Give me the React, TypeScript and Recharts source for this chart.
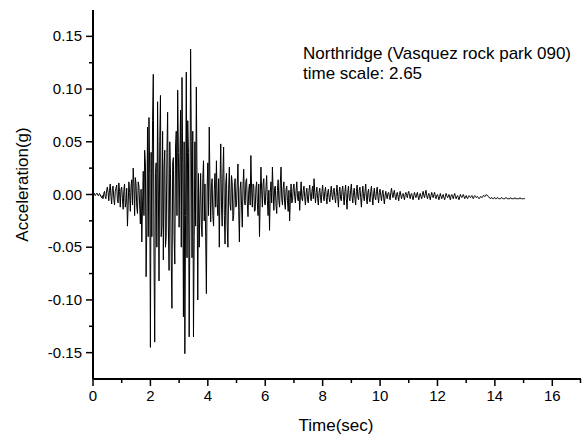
import React from 'react';
import { LineChart, Line, XAxis, YAxis } from 'recharts';

// Sampling interval of the digitised record (s)
const SAMPLE_INTERVAL = 0.025;

// Acceleration (g), t = 0.000 .. 2.975 s
const accel0to3 = [
  0, 0.0, 0.001, -0.001, 0, 0.001, 0.001, -0.001, -0.001, 0.001,
  0.0, -0.002, -0.003, -0.001, -0.004, 0.001, 0.003, -0.002, -0.004, 0.004,
  0.007, 0.002, -0.006, 0.004, 0.010, -0.002, -0.009, 0.006, 0.008, -0.004,
  -0.010, 0.003, 0.006, 0.009, -0.005, -0.008, 0.011, 0.003, -0.012, 0.005,
  0.007, -0.004, -0.014, 0.004, 0.010, -0.012, -0.008, 0.006, -0.030, -0.010,
  0.012, 0.002, -0.016, 0.008, 0.014, -0.010, 0.025, 0.010, -0.020, 0.016,
  0.010, -0.012, -0.018, 0.012, 0.008, -0.010, -0.028, 0.005, -0.045, -0.010,
  0.022, -0.020, 0.042, 0.030, -0.078, -0.030, 0.064, -0.040, 0.073, 0.020,
  -0.145, 0.040, -0.040, 0.070, 0.114, -0.060, -0.140, 0.020, 0.030, -0.050,
  0.088, 0.010, -0.082, 0.050, 0.094, -0.040, -0.030, 0.060, -0.062, 0.025,
  0.042, -0.050, -0.040, 0.040, 0.078, -0.030, -0.072, 0.050, 0.020, -0.060,
  -0.108, 0.030, 0.035, -0.040, -0.066, 0.045, 0.060, -0.020, 0.099, 0.040,
];
// t = 3.000 .. 5.975 s
const accel3to6 = [
  -0.031, 0.030, 0.080, -0.050, 0.111, 0.030, -0.116, 0.050, -0.151, -0.020,
  0.116, -0.060, 0.070, 0.040, -0.135, -0.030, 0.138, 0.050, -0.060, 0.060,
  -0.135, -0.040, 0.050, -0.030, 0.102, 0.010, -0.100, 0.020, -0.050, -0.010,
  0.020, -0.030, -0.040, 0.015, 0.032, -0.025, 0.010, -0.040, -0.094, 0.005,
  0.030, -0.020, 0.064, 0.010, -0.026, 0.008, 0.015, -0.020, -0.030, 0.005,
  0.020, -0.012, 0.032, -0.008, -0.020, 0.015, -0.050, 0.010, 0.048, -0.010,
  -0.030, 0.020, 0.045, -0.020, -0.047, 0.010, 0.020, -0.030, -0.050, 0.005,
  0.026, -0.010, -0.015, 0.018, 0.011, -0.025, -0.020, 0.008, 0.015, -0.012,
  -0.010, 0.010, 0.029, -0.015, -0.045, 0.005, 0.012, -0.010, -0.031, 0.008,
  0.024, -0.006, -0.010, 0.012, 0.015, -0.008, -0.021, 0.004, 0.010, -0.010,
  0.037, 0.005, -0.012, 0.010, 0.008, -0.016, -0.015, 0.006, 0.012, -0.008,
  -0.020, 0.010, -0.040, -0.005, 0.026, 0.004, -0.012, 0.010, 0.015, -0.008,
];
// t = 6.000 .. 8.975 s
const accel6to9 = [
  -0.010, 0.006, 0.018, -0.006, -0.020, 0.004, -0.034, 0.002, 0.012, -0.008,
  0.026, 0.004, -0.015, 0.006, 0.008, -0.010, -0.018, 0.004, 0.014, -0.006,
  -0.012, 0.010, 0.026, -0.004, -0.010, 0.006, 0.012, -0.008, -0.014, 0.005,
  0.008, -0.006, -0.016, 0.004, -0.025, -0.004, 0.010, -0.008, -0.006, 0.006,
  0.010, -0.002, -0.008, 0.004, 0.012, -0.003, -0.006, 0.003, -0.015, -0.002,
  0.012, -0.004, -0.006, 0.004, 0.008, -0.003, -0.010, 0.002, 0.006, -0.005,
  -0.008, 0.004, 0.009, -0.002, -0.006, 0.003, 0.008, -0.004, 0.015, 0.002,
  -0.008, 0.002, 0.007, -0.004, -0.010, 0.002, 0.006, -0.003, -0.008, 0.003,
  0.009, -0.002, -0.006, 0.003, 0.007, -0.003, -0.009, 0.002, 0.005, -0.003,
  -0.007, 0.002, 0.008, -0.001, -0.005, 0.004, 0.006, -0.003, -0.008, 0.002,
  0.009, -0.002, -0.012, 0.003, 0.007, -0.004, -0.006, 0.004, 0.008, -0.002,
  -0.010, 0.003, 0.009, -0.004, -0.014, 0.002, 0.008, -0.003, -0.006, 0.004,
];
// t = 9.000 .. 11.975 s
const accel9to12 = [
  0.010, -0.002, -0.008, 0.002, 0.006, -0.004, -0.010, 0.003, 0.009, -0.002,
  -0.005, 0.004, 0.007, -0.003, -0.012, 0.001, 0.008, -0.002, -0.006, 0.003,
  0.010, -0.003, -0.009, 0.002, 0.005, -0.004, -0.007, 0.003, 0.008, -0.002,
  -0.010, 0.001, 0.006, -0.003, -0.005, 0.003, 0.007, -0.002, -0.008, 0.002,
  0.005, -0.001, -0.006, 0.001, 0.004, -0.003, -0.009, -0.001, 0.003, -0.002,
  -0.004, 0.001, 0.002, -0.002, -0.005, 0.002, 0.006, 0.000, -0.003, 0.002,
  0.004, -0.002, -0.005, 0.000, 0.002, -0.002, -0.006, 0.000, 0.003, -0.001,
  -0.004, 0.000, 0.001, -0.002, -0.005, 0.000, 0.002, -0.001, -0.003, 0.001,
  0.003, -0.001, -0.004, 0.000, 0.001, -0.002, -0.005, -0.001, 0.002, -0.001,
  -0.003, 0.000, 0.002, -0.002, -0.005, -0.001, 0.001, -0.002, -0.004, 0.000,
  0.003, -0.001, -0.003, 0.001, 0.004, -0.001, -0.004, -0.001, 0.001, -0.002,
  -0.005, -0.001, 0.002, -0.001, -0.003, 0.000, 0.002, -0.002, -0.004, -0.001,
];
// t = 12.000 .. 15.050 s
const accel12to15 = [
  0.000, -0.002, -0.005, -0.002, 0.001, -0.002, -0.004, -0.001, 0.000, -0.003,
  -0.005, -0.002, 0.001, -0.001, -0.003, -0.002, 0.000, -0.003, -0.005, -0.001,
  0.000, -0.002, -0.004, -0.001, 0.001, -0.002, -0.004, -0.002, -0.001, -0.003,
  -0.005, -0.002, 0.000, -0.002, -0.003, -0.001, 0.000, -0.002, -0.004, -0.002,
  -0.001, -0.003, -0.004, -0.002, -0.001, -0.002, -0.003, -0.002, -0.001, -0.003,
  -0.004, -0.002, -0.001, -0.002, -0.003, -0.002, -0.002, -0.003, -0.004, -0.003,
  -0.002, -0.002, -0.003, -0.002, -0.001, -0.001, -0.002, -0.001, 0.000, -0.001,
  -0.001, -0.002, -0.003, -0.003, -0.004, -0.003, -0.003, -0.004, -0.004, -0.003,
  -0.003, -0.004, -0.004, -0.003, -0.003, -0.004, -0.004, -0.004, -0.004, -0.003,
  -0.003, -0.004, -0.004, -0.004, -0.004, -0.003, -0.003, -0.004, -0.004, -0.004,
  -0.004, -0.004, -0.003, -0.004, -0.004, -0.004, -0.004, -0.004, -0.003, -0.004,
  -0.004, -0.004, -0.004, -0.004, -0.004, -0.003, -0.004, -0.004, -0.004, -0.004,
  -0.004, -0.004, -0.004,
];

const X_TICKS = [0, 1, 2, 3, 4, 5, 6, 7, 8, 9, 10, 11, 12, 13, 14, 15, 16, 17];
const Y_TICKS = [
  -0.175, -0.15, -0.125, -0.1, -0.075, -0.05, -0.025, 0,
  0.025, 0.05, 0.075, 0.1, 0.125, 0.15, 0.175,
];
const TITLE_LINES = ['Northridge (Vasquez rock park 090)', 'time scale: 2.65'];
const X_LABEL = 'Time(sec)';
const Y_LABEL = 'Acceleration(g)';

const allAccel = [...accel0to3, ...accel3to6, ...accel6to9, ...accel9to12, ...accel12to15];
const data = allAccel.map((a, i) => ({ t: Math.round(i * SAMPLE_INTERVAL * 1000) / 1000, a }));

const FONT = '"Liberation Sans", Arial, Helvetica, sans-serif';

const XTick = (props: any) => {
  const { x, y, payload } = props;
  const v = payload.value as number;
  const major = v % 2 === 0;
  if (v > 16.5) {
    return <line x1={x - 0.5} y1={y} x2={x - 0.5} y2={y + 4} stroke="#000" strokeWidth={1.5} />;
  }
  return (
    <g>
      <line x1={x} y1={y} x2={x} y2={y + (major ? 7 : 4)} stroke="#000" strokeWidth={1.5} />
      {major && (
        <text x={x} y={y + 22} textAnchor="middle" fontSize={15} fontFamily={FONT} fill="#000">
          {v}
        </text>
      )}
    </g>
  );
};

const YTick = (props: any) => {
  const { x, y, payload } = props;
  const v = payload.value as number;
  const k = v * 20;
  const major = Math.abs(k - Math.round(k)) < 1e-6 && Math.abs(v) < 0.16;
  const isEnd = Math.abs(v) > 0.17;
  if (isEnd) return <g />;
  return (
    <g>
      <line x1={x - (major ? 7 : 4)} y1={y} x2={x} y2={y} stroke="#000" strokeWidth={1.5} />
      {major && (
        <text x={x - 11} y={y + 5} textAnchor="end" fontSize={15} fontFamily={FONT} fill="#000">
          {v.toFixed(2)}
        </text>
      )}
    </g>
  );
};

const XLabel = (props: any) => {
  const vb = props.viewBox || { x: 93, y: 379, width: 488, height: 60 };
  return (
    <text x={vb.x + vb.width / 2 - 1} y={vb.y + 52} textAnchor="middle" fontSize={17} fontFamily={FONT} fill="#000">
      {X_LABEL}
    </text>
  );
};

const YLabel = (props: any) => {
  const vb = props.viewBox || { x: 0, y: 10, width: 93, height: 369 };
  const cx = vb.x + 28;
  const cy = vb.y + vb.height / 2 - 10;
  return (
    <text x={cx} y={cy} textAnchor="middle" fontSize={17} fontFamily={FONT} fill="#000" transform={`rotate(-90, ${cx}, ${cy})`}>
      {Y_LABEL}
    </text>
  );
};

export default function App() {
  return (
    <div style={{ position: 'absolute', left: 0, top: 0, width: 582, height: 439, background: '#fff' }}>
      <LineChart width={582} height={439} data={data} margin={{ top: 10, right: 1, bottom: 0, left: 0 }}>
        <XAxis
          dataKey="t"
          type="number"
          domain={[0, 17]}
          ticks={X_TICKS}
          interval={0}
          height={60}
          tickSize={0}
          tickMargin={0}
          tickLine={false}
          axisLine={{ stroke: '#000', strokeWidth: 2 }}
          tick={<XTick />}
          label={<XLabel />}
          allowDataOverflow
        />
        <YAxis
          type="number"
          domain={[-0.175, 0.175]}
          ticks={Y_TICKS}
          interval={0}
          width={93}
          tickSize={0}
          tickMargin={0}
          tickLine={false}
          axisLine={{ stroke: '#000', strokeWidth: 2 }}
          tick={<YTick />}
          label={<YLabel />}
          allowDataOverflow
        />
        <Line
          type="linear"
          dataKey="a"
          stroke="#000"
          strokeWidth={1}
          dot={false}
          isAnimationActive={false}
        />
      </LineChart>
      <div
        style={{
          position: 'absolute',
          left: 303,
          top: 44,
          fontFamily: FONT,
          fontSize: 17,
          lineHeight: '20px',
          color: '#000',
          whiteSpace: 'nowrap',
        }}
      >
        {TITLE_LINES.map((l) => (
          <div key={l}>{l}</div>
        ))}
      </div>
    </div>
  );
}
